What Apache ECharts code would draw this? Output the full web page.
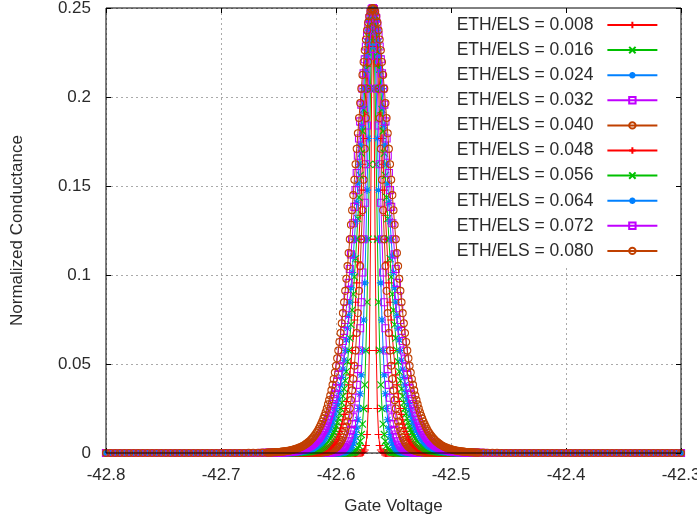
<!DOCTYPE html>
<html><head><meta charset="utf-8">
<script src="https://cdn.jsdelivr.net/npm/echarts/dist/echarts.min.js"></script>
<style>html,body{margin:0;padding:0;background:#fff}#c{width:697px;height:521px}</style>
</head><body><div id="c"></div>
<script>
// Gate voltage sample points shared by all curves
const xs = [
-42.800,-42.796,-42.792,-42.788,-42.784,-42.780,-42.776,-42.772,-42.768,-42.764,
-42.760,-42.756,-42.752,-42.748,-42.744,-42.740,-42.736,-42.732,-42.728,-42.724,
-42.720,-42.716,-42.712,-42.708,-42.704,-42.700,-42.696,-42.692,-42.688,-42.684,
-42.680,-42.676,-42.672,-42.668,-42.664,
-42.660,-42.659,-42.658,-42.657,-42.656,-42.655,-42.654,-42.653,-42.652,-42.651,
-42.650,-42.649,-42.648,-42.647,-42.646,-42.645,-42.644,-42.643,-42.642,-42.641,
-42.640,-42.639,-42.638,-42.637,-42.636,-42.635,-42.634,-42.633,-42.632,-42.631,
-42.630,-42.629,-42.628,-42.627,-42.626,-42.625,-42.624,-42.623,-42.622,-42.621,
-42.620,-42.619,-42.618,-42.617,-42.616,-42.615,-42.614,-42.613,-42.612,-42.611,
-42.610,-42.609,-42.608,-42.607,-42.606,-42.605,-42.604,-42.603,-42.602,-42.601,
-42.600,-42.599,-42.598,-42.597,-42.596,-42.595,-42.594,-42.593,-42.592,-42.591,
-42.590,-42.589,-42.588,-42.587,-42.586,-42.585,-42.584,-42.583,-42.582,-42.581,
-42.580,-42.579,-42.578,-42.577,-42.576,-42.575,-42.574,-42.573,-42.572,-42.571,
-42.570,-42.569,
-42.568,
-42.567,-42.566,-42.565,-42.564,-42.563,-42.562,-42.561,
-42.560,-42.559,-42.558,-42.557,-42.556,-42.555,-42.554,-42.553,-42.552,-42.551,
-42.550,-42.549,-42.548,-42.547,-42.546,-42.545,-42.544,-42.543,-42.542,-42.541,
-42.540,-42.539,-42.538,-42.537,-42.536,-42.535,-42.534,-42.533,-42.532,-42.531,
-42.530,-42.529,-42.528,-42.527,-42.526,-42.525,-42.524,-42.523,-42.522,-42.521,
-42.520,-42.519,-42.518,-42.517,-42.516,-42.515,-42.514,-42.513,-42.512,-42.511,
-42.510,-42.509,-42.508,-42.507,-42.506,-42.505,-42.504,-42.503,-42.502,-42.501,
-42.500,-42.499,-42.498,-42.497,-42.496,-42.495,-42.494,-42.493,-42.492,-42.491,
-42.490,-42.489,-42.488,-42.487,-42.486,-42.485,-42.484,-42.483,-42.482,-42.481,
-42.480,-42.479,-42.478,-42.477,-42.476,
-42.472,-42.468,-42.464,-42.460,-42.456,-42.452,-42.448,-42.444,-42.440,-42.436,
-42.432,-42.428,-42.424,-42.420,-42.416,-42.412,-42.408,-42.404,-42.400,-42.396,
-42.392,-42.388,-42.384,-42.380,-42.376,-42.372,-42.368,-42.364,-42.360,-42.356,
-42.352,-42.348,-42.344,-42.340,-42.336,-42.332,-42.328,-42.324,-42.320,-42.316,
-42.312,-42.308,-42.304,-42.300
];

const seriesNames = ['ETH/ELS = 0.008','ETH/ELS = 0.016','ETH/ELS = 0.024','ETH/ELS = 0.032','ETH/ELS = 0.040',
                     'ETH/ELS = 0.048','ETH/ELS = 0.056','ETH/ELS = 0.064','ETH/ELS = 0.072','ETH/ELS = 0.080'];

const y008 = [
0,0,0,0,0,0,0,0,0,0, 0,0,0,0,0,0,0,0,0,0, 0,0,0,0,0,0,0,0,0,0, 0,0,0,0,0,0,0,0,0,0,
0,0,0,0,0,0,0,0,0,0, 0,0,0,0,0,0,0,0,0,0, 0,0,0,0,0,0,0,0,0,0, 0,0,0,0,0,0,0,0,0,0,
0,0,0,0,0,0,0,0,0,0, 0,0,0,0,0,0,0,0,0,0, 0,0,0,0,0,0,0,0,0,0, 0,0,0,0,0,0,0,
0.0001,0.0003,0.0007,0.0017,0.0042,0.0104,0.025,0.0576,0.1201,0.2047,0.25,
0.2047,0.1201,0.0576,0.025,0.0104,0.0042,0.0017,0.0007,0.0003,0.0001,
0,0,0,0,0,0,0,0,0,0, 0,0,0,0,0,0,0,0,0,0, 0,0,0,0,0,0,0,0,0,0, 0,0,0,0,0,0,0,0,0,0,
0,0,0,0,0,0,0,0,0,0, 0,0,0,0,0,0,0,0,0,0, 0,0,0,0,0,0,0,0,0,0, 0,0,0,0,0,0,0,0,0,0,
0,0,0,0,0,0,0,0,0,0, 0,0,0,0,0,0,0,0,0,0, 0,0,0,0,0,0,0,0,0,0, 0,0,0,0,0,0,0,0,0,0,
0,0,0,0,0,0
];
const y016 = [
0,0,0,0,0,0,0,0,0,0, 0,0,0,0,0,0,0,0,0,0, 0,0,0,0,0,0,0,0,0,0, 0,0,0,0,0,0,0,0,0,0,
0,0,0,0,0,0,0,0,0,0, 0,0,0,0,0,0,0,0,0,0, 0,0,0,0,0,0,0,0,0,0, 0,0,0,0,0,0,0,0,0,0,
0,0,0,0,0,0,0,0,0,0, 0,0,0,0,0,0,0,0,0,0, 0,0,0,0,0,0,
0.0001,0.0001,0.0002,0.0003,0.0004,0.0007,0.0011,0.0017,0.0027,0.0042,0.0066,0.0104,0.0162,0.025,0.0383,0.0576,0.0847,0.1201,0.1622,0.2047,0.2375,0.25,
0.2375,0.2047,0.1622,0.1201,0.0847,0.0576,0.0383,0.025,0.0162,0.0104,0.0066,0.0042,0.0027,0.0017,0.0011,0.0007,0.0004,0.0003,0.0002,0.0001,0.0001,
0,0,0,0,0,0,0,0,0,0, 0,0,0,0,0,0,0,0,0,0, 0,0,0,0,0,0,0,0,0,0, 0,0,0,0,0,0,0,0,0,0,
0,0,0,0,0,0,0,0,0,0, 0,0,0,0,0,0,0,0,0,0, 0,0,0,0,0,0,0,0,0,0, 0,0,0,0,0,0,0,0,0,0,
0,0,0,0,0,0,0,0,0,0, 0,0,0,0,0,0,0,0,0,0, 0,0,0,0,0,0,0,0,0,0, 0,0,0,0,0
];
const y024 = [
0,0,0,0,0,0,0,0,0,0, 0,0,0,0,0,0,0,0,0,0, 0,0,0,0,0,0,0,0,0,0, 0,0,0,0,0,0,0,0,0,0,
0,0,0,0,0,0,0,0,0,0, 0,0,0,0,0,0,0,0,0,0, 0,0,0,0,0,0,0,0,0,0, 0,0,0,0,0,0,0,0,0,0,
0,0,0,0,0,0,0,0,0,0, 0,0,0,0,0,
0.0001,0.0001,0.0001,0.0002,0.0002,0.0003,0.0004,0.0005,0.0007,0.0009,0.0013,0.0017,0.0023,0.0031,0.0042,0.0057,
0.0077,0.0104,0.014,0.0187,0.025,0.0333,0.0439,0.0576,0.0747,0.0956,0.1201,0.1477,0.1767,0.2047,0.2284,0.2443,0.25,
0.2443,0.2284,0.2047,0.1767,0.1477,0.1201,0.0956,0.0747,0.0576,0.0439,0.0333,0.025,0.0187,0.014,0.0104,0.0077,
0.0057,0.0042,0.0031,0.0023,0.0017,0.0013,0.0009,0.0007,0.0005,0.0004,0.0003,0.0002,0.0002,0.0001,0.0001,0.0001,
0,0,0,0,0,0,0,0,0,0, 0,0,0,0,0,0,0,0,0,0, 0,0,0,0,0,0,0,0,0,0, 0,0,0,0,0,0,0,0,0,0,
0,0,0,0,0,0,0,0,0,0, 0,0,0,0,0,0,0,0,0,0, 0,0,0,0,0,0,0,0,0,0, 0,0,0,0,0,0,0,0,0,0,
0,0,0,0,0,0,0,0,0,0, 0,0,0,0,0,0,0,0,0,0, 0,0,0,0
];
const y032 = [
0,0,0,0,0,0,0,0,0,0, 0,0,0,0,0,0,0,0,0,0, 0,0,0,0,0,0,0,0,0,0, 0,0,0,0,0,0,0,0,0,0,
0,0,0,0,0,0,0,0,0,0, 0,0,0,0,0,0,0,0,0,0, 0,0,0,0,0,0,0,0,0,0, 0,0,0,0,0,0,0,0,0,0,
0,0,0,0,
0.0001,0.0001,0.0001,0.0001,0.0001,0.0002,0.0002,0.0003,0.0004,0.0004,0.0006,0.0007,0.0009,0.0011,0.0014,0.0017,0.0022,0.0027,0.0034,0.0042,
0.0053,0.0066,0.0083,0.0104,0.013,0.0162,0.0201,0.025,0.031,0.0383,0.0471,0.0576,0.0701,0.0847,0.1014,0.1201,0.1406,0.1622,0.184,0.2047,
0.2231,0.2375,0.2468,0.25,0.2468,0.2375,0.2231,
0.2047,0.184,0.1622,0.1406,0.1201,0.1014,0.0847,0.0701,0.0576,0.0471,0.0383,0.031,0.025,0.0201,0.0162,0.013,0.0104,0.0083,0.0066,0.0053,
0.0042,0.0034,0.0027,0.0022,0.0017,0.0014,0.0011,0.0009,0.0007,0.0006,0.0004,0.0004,0.0003,0.0002,0.0002,0.0001,0.0001,0.0001,0.0001,0.0001,
0,0,0,0,0,0,0,0,0,0, 0,0,0,0,0,0,0,0,0,0, 0,0,0,0,0,0,0,0,0,0, 0,0,0,0,0,0,0,0,0,0,
0,0,0,0,0,0,0,0,0,0, 0,0,0,0,0,0,0,0,0,0, 0,0,0,0,0,0,0,0,0,0, 0,0,0,0,0,0,0,0,0,0,
0,0,0,0,0,0,0,0,0,0, 0,0,0
];
const y040 = [
0,0,0,0,0,0,0,0,0,0, 0,0,0,0,0,0,0,0,0,0, 0,0,0,0,0,0,0,0,0,0, 0,0,0,0,0,0,0,0,0,0,
0,0,0,0,0,0,0,0,0,0, 0,0,0,0,0,0,0,0,0,0, 0,0,0,0,0,0,0,0,0,0, 0,0,0,
0.0001,0.0001,0.0001,0.0001,0.0001,0.0001,0.0002,0.0002,
0.0002,0.0003,0.0003,0.0004,0.0005,0.0006,0.0007,0.0008,0.001,0.0012,0.0014,0.0017,0.0021,0.0025,0.003,0.0035,0.0042,0.0051,0.0061,0.0073,
0.0087,0.0104,0.0124,0.0148,0.0177,0.021,0.025,0.0297,0.0352,0.0416,0.049,0.0576,0.0674,0.0786,0.0911,0.105,0.1201,0.1364,0.1535,0.1709,
0.1882,0.2047,0.2197,0.2323,0.2419,0.248,0.25,0.248,0.2419,0.2323,0.2197,0.2047,0.1882,
0.1709,0.1535,0.1364,0.1201,0.105,0.0911,0.0786,0.0674,0.0576,0.049,0.0416,0.0352,0.0297,0.025,0.021,0.0177,0.0148,0.0124,0.0104,0.0087,
0.0073,0.0061,0.0051,0.0042,0.0035,0.003,0.0025,0.0021,0.0017,0.0014,0.0012,0.001,0.0008,0.0007,0.0006,0.0005,0.0004,0.0003,0.0003,0.0002,
0.0002,0.0002,0.0001,0.0001,0.0001,0.0001,0.0001,0.0001,
0,0,0,0,0,0,0,0,0,0, 0,0,0,0,0,0,0,0,0,0, 0,0,0,0,0,0,0,0,0,0, 0,0,0,0,0,0,0,0,0,0,
0,0,0,0,0,0,0,0,0,0, 0,0,0,0,0,0,0,0,0,0, 0,0,0,0,0,0,0,0,0,0, 0,0,0,0,0,0,0,0,0,0,
0,0
];
const y048 = [
0,0,0,0,0,0,0,0,0,0, 0,0,0,0,0,0,0,0,0,0, 0,0,0,0,0,0,0,0,0,0, 0,0,0,0,0,0,0,0,0,0,
0,0,0,0,0,0,0,0,0,0, 0,0,0,0,0,0,0,0,0,0, 0,0,
0.0001,0.0001,0.0001,0.0001,0.0001,
0.0001,0.0001,0.0002,0.0002,0.0002,0.0002,0.0003,0.0003,0.0004,0.0004,
0.0005,0.0006,0.0007,0.0008,0.0009,0.0011,0.0013,0.0015,0.0017,0.002,
0.0023,0.0027,0.0031,0.0036,0.0042,0.0049,0.0057,0.0066,0.0077,0.009,
0.0104,0.0121,0.014,0.0162,0.0187,0.0217,0.025,0.0289,0.0333,0.0383,
0.0439,0.0504,0.0576,0.0657,0.0747,0.0847,0.0956,0.1074,0.1201,0.1336,
0.1477,0.1622,0.1767,0.191,0.2047,0.2173,0.2284,0.2375,0.2443,0.2486,
0.25,
0.2486,0.2443,0.2375,0.2284,0.2173,0.2047,0.191,0.1767,0.1622,0.1477,
0.1336,0.1201,0.1074,0.0956,0.0847,0.0747,0.0657,0.0576,0.0504,0.0439,
0.0383,0.0333,0.0289,0.025,0.0217,0.0187,0.0162,0.014,0.0121,0.0104,
0.009,0.0077,0.0066,0.0057,0.0049,0.0042,0.0036,0.0031,0.0027,0.0023,
0.002,0.0017,0.0015,0.0013,0.0011,0.0009,0.0008,0.0007,0.0006,0.0005,
0.0004,0.0004,0.0003,0.0003,0.0002,0.0002,0.0002,0.0002,0.0001,0.0001,
0.0001,0.0001,0.0001,0.0001,0.0001,
0,0,0,0,0,0,0,0,0,0, 0,0,0,0,0,0,0,0,0,0, 0,0,0,0,0,0,0,0,0,0, 0,0,0,0,0,0,0,0,0,0,
0,0,0,0,0,0,0,0,0,0, 0,0,0,0,0,0,0,0,0,0, 0,0,0,0,0,0,0,0,0,0, 0
];
const y056 = [
0,0,0,0,0,0,0,0,0,0, 0,0,0,0,0,0,0,0,0,0, 0,0,0,0,0,0,0,0,0,0, 0,0,0,0,0,0,0,0,0,0,
0,0,0,0,0,0,0,0,0,0, 0,
0.0001,0.0001,0.0001,0.0001,0.0001,0.0001,
0.0001,0.0001,0.0001,0.0002,0.0002,0.0002,0.0002,0.0003,0.0003,0.0004,
0.0004,0.0005,0.0005,0.0006,0.0007,0.0008,0.0009,0.001,0.0012,0.0013,
0.0015,0.0017,0.002,0.0022,0.0025,0.0029,0.0033,0.0037,0.0042,0.0048,
0.0055,0.0062,0.0071,0.0081,0.0092,0.0104,0.0118,0.0134,0.0152,0.0172,
0.0195,0.0221,0.025,0.0283,0.0319,0.036,0.0406,0.0457,0.0514,0.0576,
0.0645,0.0721,0.0803,0.0892,0.0989,0.1092,0.1201,0.1317,0.1436,0.156,
0.1684,0.1809,0.193,0.2047,0.2156,0.2254,0.2339,0.2407,0.2458,0.249,
0.25,
0.249,0.2458,0.2407,0.2339,0.2254,0.2156,0.2047,0.193,0.1809,0.1684,
0.156,0.1436,0.1317,0.1201,0.1092,0.0989,0.0892,0.0803,0.0721,0.0645,
0.0576,0.0514,0.0457,0.0406,0.036,0.0319,0.0283,0.025,0.0221,0.0195,
0.0172,0.0152,0.0134,0.0118,0.0104,0.0092,0.0081,0.0071,0.0062,0.0055,
0.0048,0.0042,0.0037,0.0033,0.0029,0.0025,0.0022,0.002,0.0017,0.0015,
0.0013,0.0012,0.001,0.0009,0.0008,0.0007,0.0006,0.0005,0.0005,0.0004,
0.0004,0.0003,0.0003,0.0002,0.0002,0.0002,0.0002,0.0001,0.0001,0.0001,
0.0001,0.0001,0.0001,0.0001,0.0001,0.0001,
0,0,0,0,0,0,0,0,0,0, 0,0,0,0,0,0,0,0,0,0, 0,0,0,0,0,0,0,0,0,0, 0,0,0,0,0,0,0,0,0,0,
0,0,0,0,0,0,0,0,0,0, 0,0,0,0,0,0,0,0,0,0
];
const y064 = [
0,0,0,0,0,0,0,0,0,0, 0,0,0,0,0,0,0,0,0,0, 0,0,0,0,0,0,0,0,0,0, 0,0,0,0,0,0,0,0,0,0,
0.0001,0.0001,0.0001,0.0001,0.0001,0.0001,0.0001,
0.0001,0.0001,0.0001,0.0002,0.0002,0.0002,0.0002,0.0002,0.0003,0.0003,
0.0004,0.0004,0.0004,0.0005,0.0006,0.0006,0.0007,0.0008,0.0009,0.001,
0.0011,0.0012,0.0014,0.0015,0.0017,0.0019,0.0022,0.0024,0.0027,0.003,
0.0034,0.0038,0.0042,0.0047,0.0053,0.0059,0.0066,0.0074,0.0083,0.0093,
0.0104,0.0116,0.013,0.0145,0.0162,0.0181,0.0201,0.0225,0.025,0.0279,
0.031,0.0345,0.0383,0.0425,0.0471,0.0521,0.0576,0.0636,0.0701,0.0771,
0.0847,0.0928,0.1014,0.1105,0.1201,0.1302,0.1406,0.1513,0.1622,0.1731,
0.184,0.1945,0.2047,0.2143,0.2231,0.2309,0.2375,0.2429,0.2468,0.2492,
0.25,
0.2492,0.2468,0.2429,0.2375,0.2309,0.2231,0.2143,0.2047,0.1945,0.184,
0.1731,0.1622,0.1513,0.1406,0.1302,0.1201,0.1105,0.1014,0.0928,0.0847,
0.0771,0.0701,0.0636,0.0576,0.0521,0.0471,0.0425,0.0383,0.0345,0.031,
0.0279,0.025,0.0225,0.0201,0.0181,0.0162,0.0145,0.013,0.0116,0.0104,
0.0093,0.0083,0.0074,0.0066,0.0059,0.0053,0.0047,0.0042,0.0038,0.0034,
0.003,0.0027,0.0024,0.0022,0.0019,0.0017,0.0015,0.0014,0.0012,0.0011,
0.001,0.0009,0.0008,0.0007,0.0006,0.0006,0.0005,0.0004,0.0004,0.0004,
0.0003,0.0003,0.0002,0.0002,0.0002,0.0002,0.0002,0.0001,0.0001,0.0001,
0.0001,0.0001,0.0001,0.0001,0.0001,0.0001,0.0001,
0,0,0,0,0,0,0,0,0,0, 0,0,0,0,0,0,0,0,0,0, 0,0,0,0,0,0,0,0,0,0, 0,0,0,0,0,0,0,0,0,0,
0,0,0,0,0,0,0,0,0
];
const y072 = [
0,0,0,0,0,0,0,0,0,0, 0,0,0,0,0,0,0,0,0,0, 0,0,0,0,0,0,0,0,0,0, 0,0,0,0, 0.0001,
0.0001,0.0001,
0.0001,0.0001,0.0001,0.0002,0.0002,0.0002,0.0002,0.0002,0.0003,0.0003,
0.0003,0.0003,0.0004,0.0004,0.0005,0.0005,0.0006,0.0006,0.0007,0.0008,
0.0008,0.0009,0.001,0.0011,0.0013,0.0014,0.0016,0.0017,0.0019,0.0021,
0.0023,0.0026,0.0028,0.0031,0.0035,0.0038,0.0042,0.0047,0.0052,0.0057,
0.0063,0.007,0.0077,0.0085,0.0094,0.0104,0.0115,0.0127,0.014,0.0154,
0.017,0.0187,0.0206,0.0227,0.025,0.0275,0.0303,0.0333,0.0365,0.0401,
0.0439,0.0482,0.0527,0.0576,0.0629,0.0686,0.0747,0.0813,0.0882,0.0956,
0.1034,0.1116,0.1201,0.1291,0.1383,0.1477,0.1573,0.167,0.1767,0.1863,
0.1957,0.2047,0.2133,0.2212,0.2284,0.2347,0.2401,0.2444,0.2475,0.2494,
0.25,
0.2494,0.2475,0.2444,0.2401,0.2347,0.2284,0.2212,0.2133,0.2047,0.1957,
0.1863,0.1767,0.167,0.1573,0.1477,0.1383,0.1291,0.1201,0.1116,0.1034,
0.0956,0.0882,0.0813,0.0747,0.0686,0.0629,0.0576,0.0527,0.0482,0.0439,
0.0401,0.0365,0.0333,0.0303,0.0275,0.025,0.0227,0.0206,0.0187,0.017,
0.0154,0.014,0.0127,0.0115,0.0104,0.0094,0.0085,0.0077,0.007,0.0063,
0.0057,0.0052,0.0047,0.0042,0.0038,0.0035,0.0031,0.0028,0.0026,0.0023,
0.0021,0.0019,0.0017,0.0016,0.0014,0.0013,0.0011,0.001,0.0009,0.0008,
0.0008,0.0007,0.0006,0.0006,0.0005,0.0005,0.0004,0.0004,0.0003,0.0003,
0.0003,0.0003,0.0002,0.0002,0.0002,0.0002,0.0002,0.0001,0.0001,0.0001,
0.0001,0.0001,
0.0001, 0,0,0,0,0,0,0,0,0,0, 0,0,0,0,0,0,0,0,0,0, 0,0,0,0,0,0,0,0,0,0, 0,0,0,0,0,0,0,0,0,0, 0,0,0
];
const y080 = [
0,0,0,0,0,0,0,0,0,0, 0,0,0,0,0,0,0,0,0,0, 0,0,0,0,0,0,0,0,0,0, 0, 0.0001,0.0001,0.0001,0.0002,
0.0002,0.0003,
0.0003,0.0003,0.0003,0.0004,0.0004,0.0004,0.0005,0.0005,0.0006,0.0006,
0.0007,0.0008,0.0008,0.0009,0.001,0.0011,0.0012,0.0013,0.0014,0.0016,
0.0017,0.0019,0.0021,0.0023,0.0025,0.0027,0.003,0.0032,0.0035,0.0039,
0.0042,0.0046,0.0051,0.0056,0.0061,0.0066,0.0073,0.008,0.0087,0.0095,
0.0104,0.0114,0.0124,0.0136,0.0148,0.0162,0.0177,0.0193,0.021,0.0229,
0.025,0.0273,0.0297,0.0323,0.0352,0.0383,0.0416,0.0452,0.049,0.0532,
0.0576,0.0624,0.0674,0.0729,0.0786,0.0847,0.0911,0.0979,0.105,0.1124,
0.1201,0.1282,0.1364,0.1449,0.1535,0.1622,0.1709,0.1796,0.1882,0.1966,
0.2047,0.2124,0.2197,0.2263,0.2323,0.2375,0.2419,0.2454,0.248,0.2495,
0.25,
0.2495,0.248,0.2454,0.2419,0.2375,0.2323,0.2263,0.2197,0.2124,0.2047,
0.1966,0.1882,0.1796,0.1709,0.1622,0.1535,0.1449,0.1364,0.1282,0.1201,
0.1124,0.105,0.0979,0.0911,0.0847,0.0786,0.0729,0.0674,0.0624,0.0576,
0.0532,0.049,0.0452,0.0416,0.0383,0.0352,0.0323,0.0297,0.0273,0.025,
0.0229,0.021,0.0193,0.0177,0.0162,0.0148,0.0136,0.0124,0.0114,0.0104,
0.0095,0.0087,0.008,0.0073,0.0066,0.0061,0.0056,0.0051,0.0046,0.0042,
0.0039,0.0035,0.0032,0.003,0.0027,0.0025,0.0023,0.0021,0.0019,0.0017,
0.0016,0.0014,0.0013,0.0012,0.0011,0.001,0.0009,0.0008,0.0008,0.0007,
0.0006,0.0006,0.0005,0.0005,0.0004,0.0004,0.0004,0.0003,0.0003,0.0003,
0.0003,0.0002,
0.0002,0.0001,0.0001,0.0001, 0,0,0,0,0,0,0,0,0,0, 0,0,0,0,0,0,0,0,0,0, 0,0,0,0,0,0,0,0,0,0, 0,0,0,0,0,0,0,0,0,0
];

const yValues = [y008, y016, y024, y032, y040, y048, y056, y064, y072, y080];
const bad = yValues.map((a, i) => i + ':' + a.length).filter((s, i) => yValues[i].length !== xs.length);
if (bad.length) throw new Error('length mismatch (xs=' + xs.length + '): ' + bad.join(', '));

// Axis ranges / ticks
const xMin = -42.8, xMax = -42.3, xStep = 0.1;
const yMin = 0, yMax = 0.25, yStep = 0.05;

// gnuplot-like styles
const colors = ['#ff0000', '#00c000', '#0080ff', '#c000ff', '#c04000'];
const plusPath = 'path://M0,5L10,5M5,0L5,10';
const crossPath = 'path://M0,0L10,10M0,10L10,0';
const starPath = 'path://M0,5L10,5M5,0L5,10M1.5,1.5L8.5,8.5M1.5,8.5L8.5,1.5';
const symbols = [plusPath, crossPath, starPath, 'rect', 'circle'];
const symbolSizes = [8, 7, 8, 7, 7];

const FONT = '"Liberation Sans", Arial, sans-serif';
const TXT = '#2a2a2a';

const series = yValues.map((ys, i) => ({
  type: 'line',
  name: seriesNames[i],
  data: xs.map((x, j) => [x, ys[j]]),
  symbol: symbols[i % 5],
  symbolSize: symbolSizes[i % 5],
  showAllSymbol: true,
  lineStyle: { color: colors[i % 5], width: 1 },
  itemStyle: { color: 'transparent', borderColor: colors[i % 5], borderWidth: 1.1 },
  emphasis: { disabled: true },
  z: 3 + i,
  silent: true
}));

const chart = echarts.init(document.getElementById('c'), null, { renderer: 'canvas' });
chart.setOption({
  animation: false,
  backgroundColor: '#fff',
  textStyle: { fontFamily: FONT },
  grid: { left: 106, right: 16, top: 8, bottom: 68, show: true, borderColor: '#000', borderWidth: 1,
          backgroundColor: 'transparent', z: 30, outerBoundsMode: 'none' },
  legend: {
    orient: 'vertical', left: 448, top: 8, padding: [8, 20, 6, 8.7],
    itemGap: 7.1, itemWidth: 50, itemHeight: 8, align: 'right',
    backgroundColor: '#fff', selectedMode: false, z: 1,
    data: seriesNames,
    textStyle: { fontFamily: FONT, fontSize: 17.5, color: TXT, lineHeight: 14, padding: [0, 9, 0, 0] }
  },
  xAxis: [{
    type: 'value', min: xMin, max: xMax, interval: xStep,
    name: 'Gate Voltage', nameLocation: 'middle', nameGap: 45, nameMoveOverlap: false,
    nameTextStyle: { fontFamily: FONT, fontSize: 17, color: TXT },
    axisLine: { show: false, onZero: false },
    axisTick: { show: true, inside: true, length: 5, lineStyle: { color: '#000', width: 1 } },
    axisLabel: { fontFamily: FONT, fontSize: 17, color: TXT, margin: 14, hideOverlap: false },
    splitLine: { show: true, lineStyle: { color: '#aaaaaa', width: 1, type: [2, 3] } },
    z: 0
  }, {
    type: 'value', position: 'top', min: xMin, max: xMax, interval: xStep,
    axisLine: { show: false, onZero: false },
    axisTick: { show: true, inside: true, length: 5, lineStyle: { color: '#000', width: 1 } },
    axisLabel: { show: false }, splitLine: { show: false }, z: 30
  }],
  yAxis: [{
    type: 'value', min: yMin, max: yMax, interval: yStep,
    name: 'Normalized Conductance', nameLocation: 'middle', nameGap: 80, nameRotate: 90, nameMoveOverlap: false,
    nameTextStyle: { fontFamily: FONT, fontSize: 17, color: TXT },
    axisLine: { show: false, onZero: false },
    axisTick: { show: true, inside: true, length: 5, lineStyle: { color: '#000', width: 1 } },
    axisLabel: { fontFamily: FONT, fontSize: 17, color: TXT, margin: 15, hideOverlap: false },
    splitLine: { show: true, lineStyle: { color: '#aaaaaa', width: 1, type: [2, 3] } },
    z: 0
  }, {
    type: 'value', position: 'right', min: yMin, max: yMax, interval: yStep,
    axisLine: { show: false, onZero: false },
    axisTick: { show: true, inside: true, length: 5, lineStyle: { color: '#000', width: 1 } },
    axisLabel: { show: false }, splitLine: { show: false }, z: 30
  }],
  series: series
});
</script>
</body></html>
